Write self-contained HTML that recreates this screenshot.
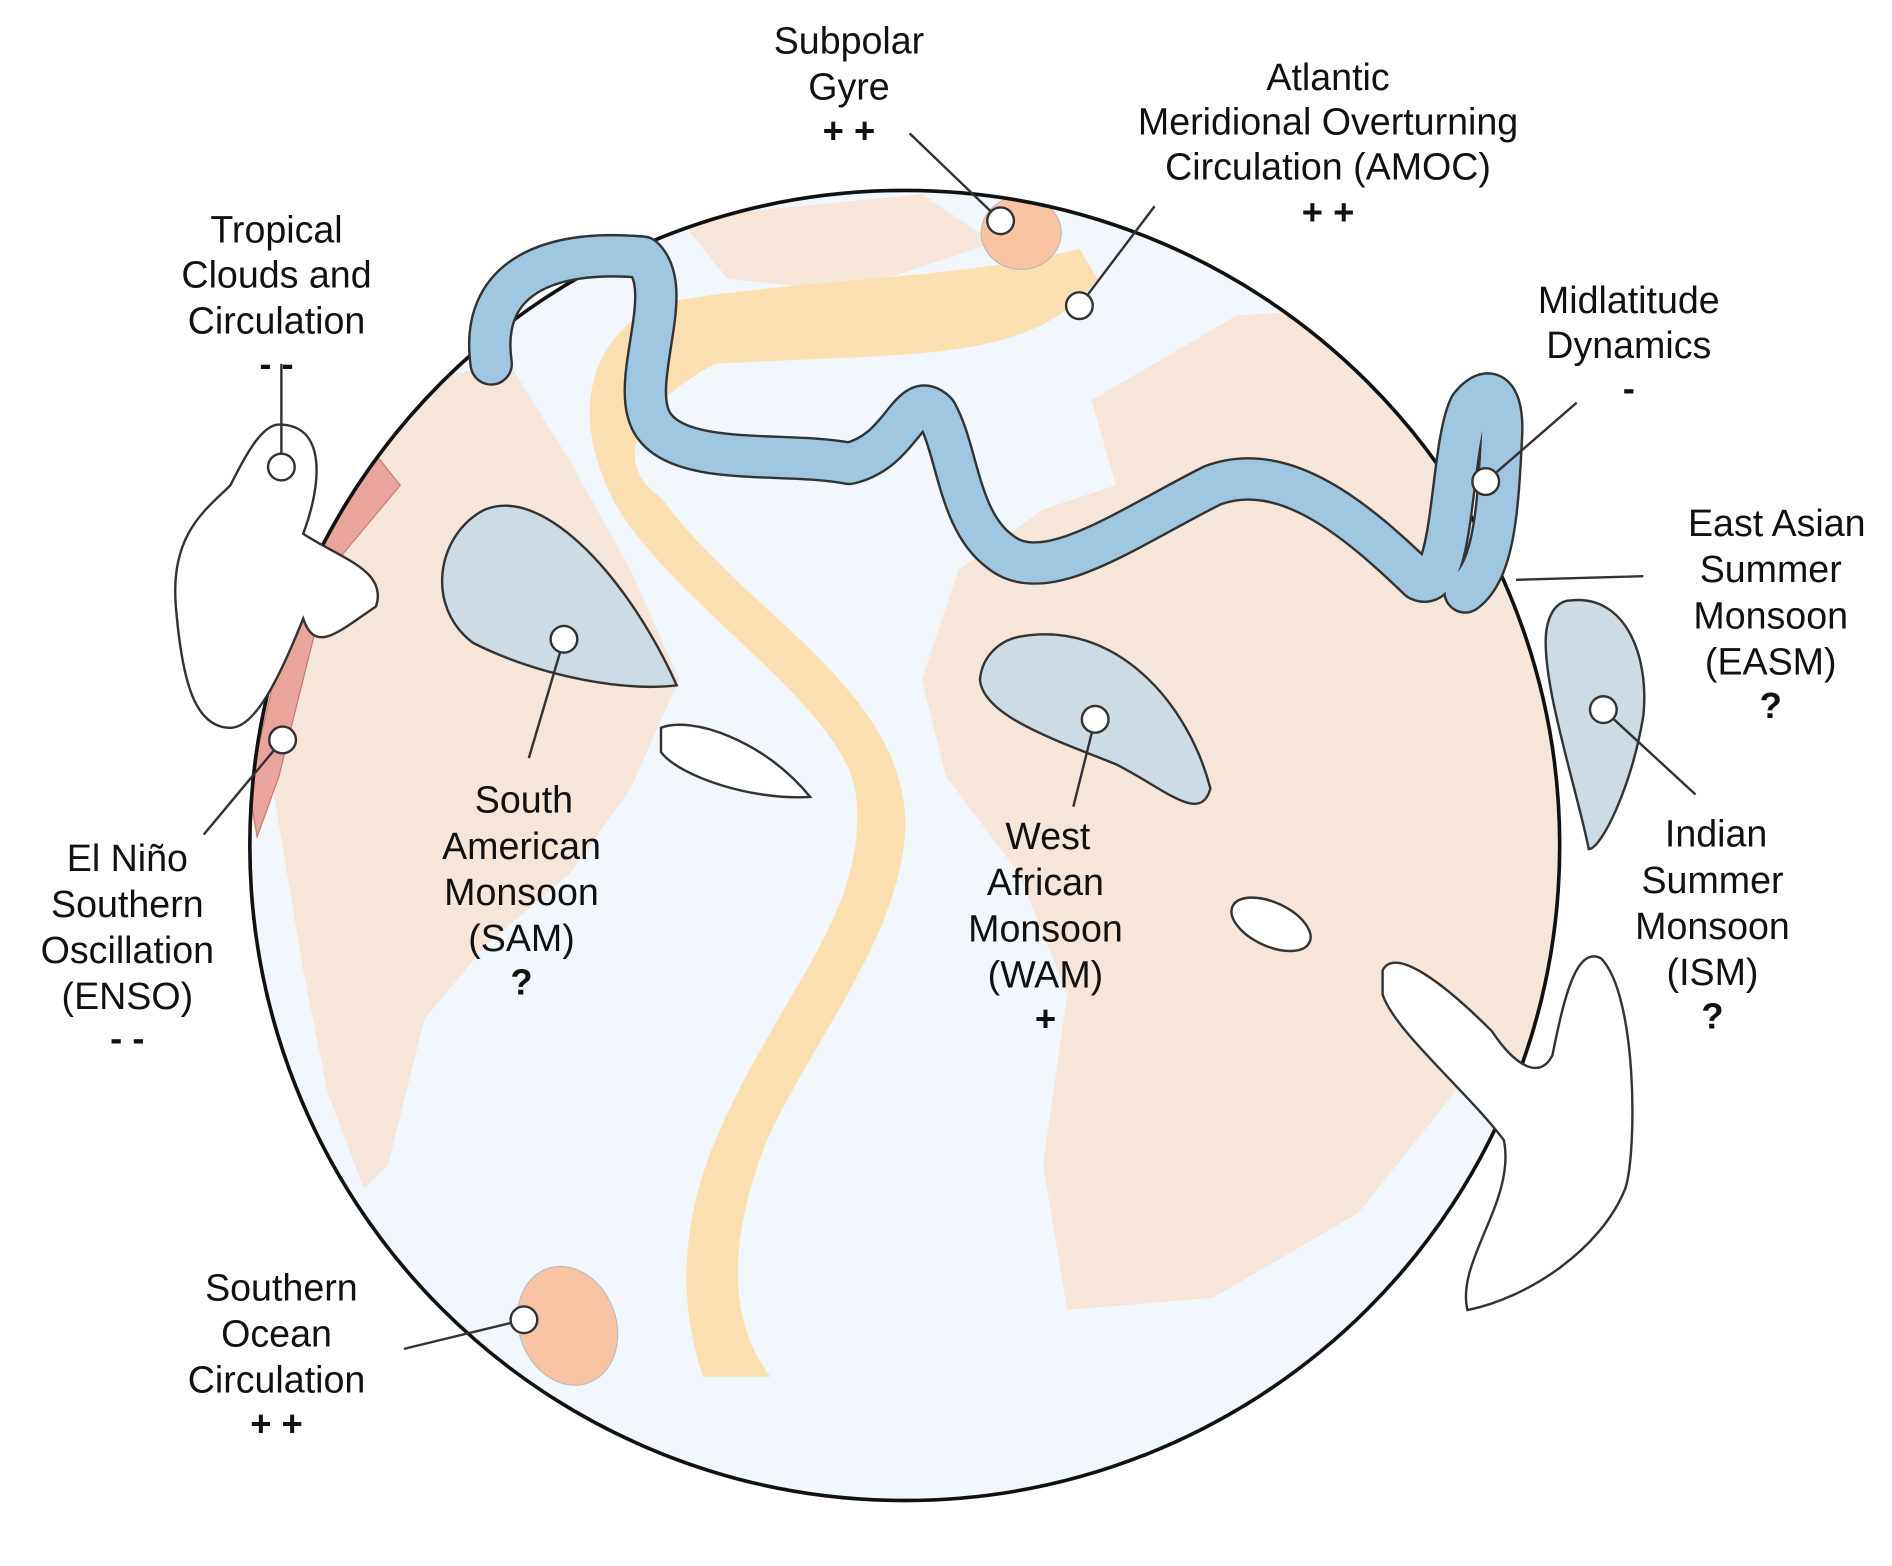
<!DOCTYPE html>
<html><head><meta charset="utf-8"><style>
html,body{margin:0;padding:0;background:#fff;}
svg{display:block;}
text{font-family:"Liberation Sans",sans-serif;font-size:31px;fill:#111;text-anchor:middle;}
.b{font-weight:bold;font-size:30px;}
</style></head><body>
<svg width="1892" height="1566" viewBox="0 0 1560 1291" preserveAspectRatio="none">
<defs><clipPath id="g"><circle cx="746" cy="697" r="540"/></clipPath></defs>
<circle cx="746" cy="697" r="540" fill="#f1f7fc"/>
<g clip-path="url(#g)">
<path d="M250 330 L420 300 L470 380 L520 470 L560 560 L520 650 L470 720 L400 780 L350 840 L320 960 L300 980 L270 900 L250 800 L230 680 L210 560 Z" fill="#f6e6da"/>
<path d="M900 330 L1020 260 L1180 250 L1300 300 L1300 900 L1240 880 L1200 900 L1120 1000 L1000 1070 L880 1080 L860 960 L880 820 L840 720 L780 640 L760 560 L790 470 L860 420 L920 400 Z" fill="#f6e6da"/>
<path d="M560 180 L760 160 L820 200 L700 240 L600 230 Z" fill="#f6e6da"/>
<path d="M310 375 L330 400 L280 460 L262 450 Z" fill="#e9a59b" stroke="#c87b70"/>
<path d="M240 500 L260 520 L230 640 L212 690 L205 650 Z" fill="#e9a59b" stroke="#c87b70"/>
<path d="M545 250 C650 230 800 230 890 205 L905 230 C850 300 760 290 590 300 C530 330 500 380 545 410 C610 500 730 560 745 660 C760 760 650 880 625 960 C595 1050 610 1100 635 1135 L580 1135 C560 1080 560 1010 590 940 C640 820 720 750 705 650 C690 580 560 500 510 420 C470 350 480 280 545 250 Z" fill="#fbdfb0"/>
<path d="M400 420 C450 400 520 480 558 565 C520 570 450 560 390 530 C350 500 360 440 400 420 Z" fill="#cddbe4" stroke="#333" stroke-width="2"/>
<path d="M840 525 C920 510 980 580 998 650 C990 680 960 650 920 630 C870 610 810 590 808 560 C810 540 825 528 840 525 Z" fill="#cddbe4" stroke="#333" stroke-width="2"/>
<path d="M545 600 C570 590 630 610 668 657 C620 660 560 640 545 620 Z" fill="#fff" stroke="#333" stroke-width="2"/>
<ellipse cx="1048" cy="762" rx="35" ry="18" transform="rotate(25 1048 762)" fill="#fff" stroke="#333" stroke-width="2"/>
<ellipse cx="842" cy="192" rx="33" ry="30" fill="#f8c4a4" stroke="#bbb"/>
<ellipse cx="468" cy="1093" rx="40" ry="50" transform="rotate(-20 468 1093)" fill="#f8c4a4" stroke="#bbb"/>
</g>
<circle cx="746" cy="697" r="540" fill="none" stroke="#111" stroke-width="3"/>
<!-- jet stream -->
<path d="M405 300 C395,230 450,205 530,212 C560,240 515,320 540,352 C565,385 650,372 700,382 C745,372 750,318 772,340 C790,372 790,430 825,455 C862,485 930,435 1000,400 C1060,378 1120,430 1170,478 C1200,492 1195,370 1212,335 C1228,315 1240,325 1238,360 C1235,420 1232,470 1208,488" fill="none" stroke="#333" stroke-width="36" stroke-linecap="round" stroke-linejoin="round"/>
<path d="M405 300 C395,230 450,205 530,212 C560,240 515,320 540,352 C565,385 650,372 700,382 C745,372 750,318 772,340 C790,372 790,430 825,455 C862,485 930,435 1000,400 C1060,378 1120,430 1170,478 C1200,492 1195,370 1212,335 C1228,315 1240,325 1238,360 C1235,420 1232,470 1208,488" fill="none" stroke="#9fc7e2" stroke-width="32" stroke-linecap="round" stroke-linejoin="round"/>
<path d="M1295 495 C1340 490 1360 540 1355 590 C1345 650 1320 700 1310 700 C1300 650 1270 560 1275 520 C1278 500 1288 495 1295 495 Z" fill="#cddbe4" stroke="#333" stroke-width="2"/>
<path d="M1140 800 C1150 780 1190 810 1230 850 C1250 880 1270 890 1280 870 C1290 820 1300 780 1320 790 C1350 820 1350 950 1340 980 C1320 1030 1260 1070 1210 1080 C1200 1040 1250 990 1240 940 C1210 900 1150 850 1140 820 Z" fill="#fff" stroke="#333" stroke-width="2"/>
<path d="M230 350 C270 350 265 400 250 440 C280 460 320 470 310 500 C280 520 260 540 250 510 C230 560 210 600 190 600 C160 600 150 560 145 500 C140 440 170 420 190 400 C200 380 215 350 230 350 Z" fill="#fff" stroke="#333" stroke-width="2"/>
<g stroke="#333" stroke-width="2" fill="#fff">
<line x1="232" y1="300" x2="232" y2="385"/>
<line x1="750" y1="110" x2="825" y2="182"/>
<line x1="952" y1="170" x2="890" y2="252"/>
<line x1="1300" y1="332" x2="1225" y2="397"/>
<line x1="1355" y1="475" x2="1250" y2="478"/>
<line x1="1398" y1="655" x2="1322" y2="585"/>
<line x1="168" y1="688" x2="233" y2="610"/>
<line x1="436" y1="625" x2="465" y2="527"/>
<line x1="885" y1="665" x2="903" y2="593"/>
<line x1="333" y1="1112" x2="432" y2="1088"/>
<circle cx="232" cy="385" r="11"/><circle cx="825" cy="182" r="11"/><circle cx="890" cy="252" r="11"/>
<circle cx="1225" cy="397" r="11"/><circle cx="1322" cy="585" r="11"/><circle cx="233" cy="610" r="11"/>
<circle cx="465" cy="527" r="11"/><circle cx="903" cy="593" r="11"/><circle cx="432" cy="1088" r="11"/>
</g>
<text x="700" y="44">Subpolar</text><text x="700" y="82">Gyre</text><text class="b" x="700" y="118">+ +</text>
<text x="1095" y="74">Atlantic</text><text x="1095" y="111">Meridional Overturning</text><text x="1095" y="148">Circulation (AMOC)</text><text class="b" x="1095" y="185">+ +</text>
<text x="228" y="200">Tropical</text><text x="228" y="237">Clouds and</text><text x="228" y="275">Circulation</text><text class="b" x="228" y="310">- -</text>
<text x="1343" y="258">Midlatitude</text><text x="1343" y="295">Dynamics</text><text class="b" x="1343" y="330">-</text>
<text x="1465" y="442">East Asian</text><text x="1460" y="480">Summer</text><text x="1460" y="518">Monsoon</text><text x="1460" y="556">(EASM)</text><text class="b" x="1460" y="592">?</text>
<text x="1415" y="698">Indian</text><text x="1412" y="736">Summer</text><text x="1412" y="774">Monsoon</text><text x="1412" y="812">(ISM)</text><text class="b" x="1412" y="848">?</text>
<text x="105" y="718">El Niño</text><text x="105" y="756">Southern</text><text x="105" y="794">Oscillation</text><text x="105" y="832">(ENSO)</text><text class="b" x="105" y="866">- -</text>
<text x="432" y="670">South</text><text x="430" y="708">American</text><text x="430" y="746">Monsoon</text><text x="430" y="784">(SAM)</text><text class="b" x="430" y="820">?</text>
<text x="864" y="700">West</text><text x="862" y="738">African</text><text x="862" y="776">Monsoon</text><text x="862" y="814">(WAM)</text><text class="b" x="862" y="850">+</text>
<text x="232" y="1072">Southern</text><text x="228" y="1110">Ocean</text><text x="228" y="1148">Circulation</text><text class="b" x="228" y="1184">+ +</text>
</svg>
</body></html>
